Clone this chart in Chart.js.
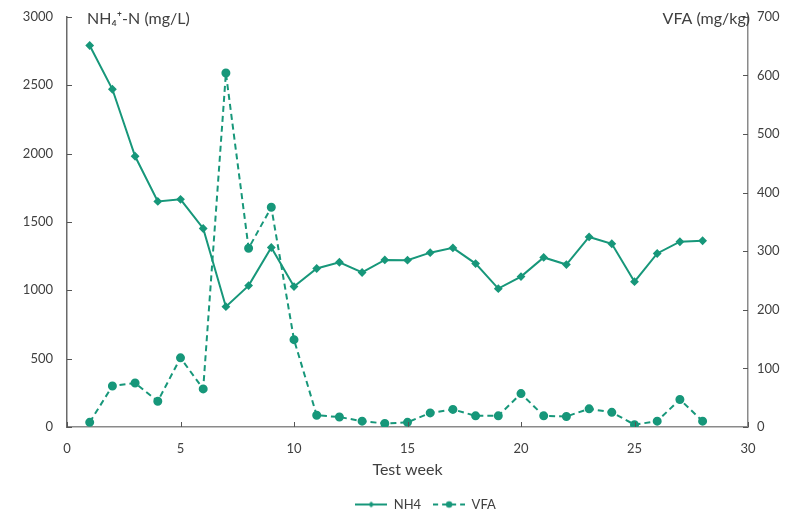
<!DOCTYPE html>
<html>
<head>
<meta charset="utf-8">
<script src="https://cdn.jsdelivr.net/npm/chart.js@4.4.1/dist/chart.umd.min.js"></script>
<style>
  html, body { margin: 0; padding: 0; background: #fff; overflow: hidden; }
  #wrap { width: 787px; height: 514px; overflow: hidden; position: relative; }
  #c { position: absolute; left: 0; top: -5px; }
</style>
</head>
<body>
<div id="wrap"><canvas id="c" width="787" height="526"></canvas></div>
<script>
const weeks = [1,2,3,4,5,6,7,8,9,10,11,12,13,14,15,16,17,18,19,20,21,22,23,24,25,26,27,28];
const nh4 = [2790,2470,1980,1650,1665,1452,880,1034,1313,1027,1159,1205,1130,1222,1220,1275,1310,1195,1012,1100,1240,1188,1390,1340,1063,1269,1355,1362];
const vfa = [8,70,75,44,118,65,604,305,375,149,20,17,10,6,8,24,30,19,19,57,19,18,31,25,4,10,47,10];
const xTicks = [0,5,10,15,20,25,30];
const leftTicks = [0,500,1000,1500,2000,2500,3000];
const rightTicks = [0,100,200,300,400,500,600,700];

const COLOR = '#17977a';
const AXIS = '#8a8a8a';
const TXT = '#404040';
const FONT = 'Lato, "Open Sans", sans-serif';

function legendIcon(dashed, style) {
  const cv = document.createElement('canvas');
  cv.width = 32; cv.height = 10;
  const g = cv.getContext('2d');
  g.strokeStyle = COLOR; g.fillStyle = COLOR; g.lineWidth = 2;
  if (dashed) g.setLineDash([5, 4]);
  g.beginPath(); g.moveTo(0, 5); g.lineTo(32, 5); g.stroke();
  g.setLineDash([]);
  g.beginPath();
  if (style === 'circle') { g.arc(16, 5, 3.2, 0, Math.PI * 2); }
  else { g.moveTo(16, 2); g.lineTo(19, 5); g.lineTo(16, 8); g.lineTo(13, 5); g.closePath(); }
  g.fill();
  return cv;
}

const inwardTicks = {
  id: 'inwardTicks',
  afterLayout(chart) {
    if (chart.legend) { chart.legend.left += 32; chart.legend.right += 32; }
  },
  afterDraw(chart) {
    const { ctx, chartArea: a, scales } = chart;
    ctx.save();
    ctx.strokeStyle = '#555'; ctx.lineWidth = 1;
    ctx.beginPath();
    xTicks.forEach(v => { const px = Math.round(scales.x.getPixelForValue(v)) + 0.5; ctx.moveTo(px, a.bottom); ctx.lineTo(px, a.bottom - 5); });
    leftTicks.forEach(v => { const py = Math.round(scales.y.getPixelForValue(v)) + 0.5; ctx.moveTo(a.left, py); ctx.lineTo(a.left + 5, py); });
    rightTicks.forEach(v => { const py = Math.round(scales.y2.getPixelForValue(v)) + 0.5; ctx.moveTo(a.right, py); ctx.lineTo(a.right - 5, py); });
    ctx.stroke();
    ctx.fillStyle = TXT;
    ctx.font = '16px ' + FONT;
    ctx.textBaseline = 'middle';
    ctx.textAlign = 'left';
    ctx.fillText('NH\u2084\u207A-N (mg/L)', a.left + 20, a.top + 2);
    ctx.textAlign = 'right';
    ctx.fillText('VFA (mg/kg)', a.right + 2, a.top + 2);
    ctx.restore();
  }
};

const noComma = v => String(v);

new Chart(document.getElementById('c'), {
  type: 'line',
  data: {
    datasets: [
      {
        label: 'NH4',
        data: weeks.map((w, i) => ({ x: w, y: nh4[i] })),
        yAxisID: 'y',
        borderColor: COLOR, backgroundColor: COLOR,
        borderWidth: 2, pointStyle: 'rectRot', pointRadius: 3, pointHoverRadius: 3,
        tension: 0
      },
      {
        label: 'VFA',
        data: weeks.map((w, i) => ({ x: w, y: vfa[i] })),
        yAxisID: 'y2',
        borderColor: COLOR, backgroundColor: COLOR,
        borderWidth: 2, borderDash: [6, 4], pointStyle: 'circle', pointRadius: 3.5, pointHoverRadius: 3.5,
        tension: 0
      }
    ]
  },
  options: {
    responsive: false,
    animation: false,
    layout: { padding: { top: 0, left: 0, right: 0, bottom: 0 } },
    plugins: {
      tooltip: { enabled: false },
      legend: {
        position: 'bottom',
        labels: {
          usePointStyle: true,
          pointStyleWidth: 32,
          boxHeight: 10,
          color: TXT,
          font: { family: FONT, size: 13 },
          padding: 12,
          generateLabels: (chart) => [
            { text: 'NH4', pointStyle: legendIcon(false, 'rectRot'), fillStyle: COLOR, strokeStyle: COLOR, lineWidth: 0, datasetIndex: 0, fontColor: TXT },
            { text: 'VFA', pointStyle: legendIcon(true, 'circle'), fillStyle: COLOR, strokeStyle: COLOR, lineWidth: 0, datasetIndex: 1, fontColor: TXT }
          ]
        }
      }
    },
    scales: {
      x: {
        type: 'linear', min: 0, max: 30,
        afterBuildTicks: s => { s.ticks = xTicks.map(v => ({ value: v })); },
        afterFit: s => { s.height = 59; },
        grid: { display: false, drawTicks: false },
        border: { display: true, color: AXIS, width: 1.5 },
        ticks: { color: TXT, font: { family: FONT, size: 13 }, padding: 14, maxRotation: 0, callback: noComma },
        title: { display: true, text: 'Test week', color: TXT, font: { family: FONT, size: 16 }, padding: { top: 2, bottom: 7 } }
      },
      y: {
        position: 'left', min: 0, max: 3000,
        afterBuildTicks: s => { s.ticks = leftTicks.map(v => ({ value: v })); },
        afterFit: s => { s.width = 67; },
        grid: { display: false, drawTicks: false },
        border: { display: true, color: '#6a6a6a', width: 1.5 },
        ticks: { color: TXT, font: { family: FONT, size: 13 }, padding: 14, callback: noComma }
      },
      y2: {
        position: 'right', min: 0, max: 700,
        afterBuildTicks: s => { s.ticks = rightTicks.map(v => ({ value: v })); },
        afterFit: s => { s.width = 39; },
        grid: { display: false, drawTicks: false },
        border: { display: true, color: AXIS, width: 1.5 },
        ticks: { color: TXT, font: { family: FONT, size: 13 }, padding: 9, callback: noComma }
      }
    }
  },
  plugins: [inwardTicks]
});
</script>
</body>
</html>
